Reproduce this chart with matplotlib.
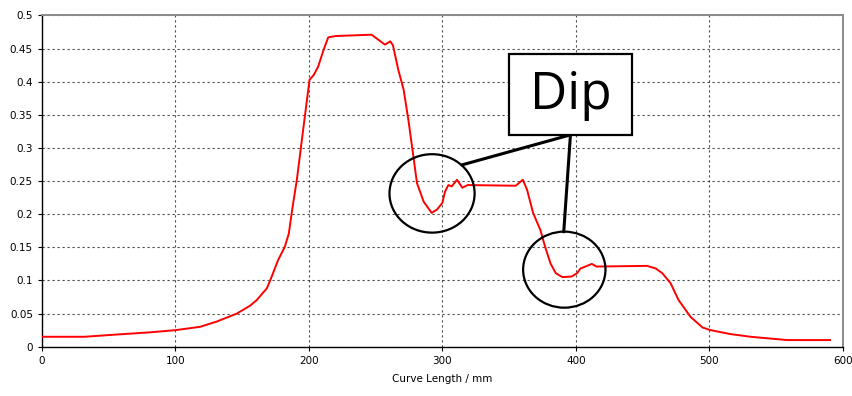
import matplotlib.pyplot as plt
from matplotlib.patches import Ellipse, Rectangle

# curve samples (curve length in mm, value)
curve_length = [0, 32, 51, 81, 100, 118.5, 131, 146, 156, 161, 165, 168.5, 171,
                177, 182, 185, 187, 188.5, 191, 196, 200.5, 203.6, 207, 211, 214.5,
                220, 247, 257, 261, 263, 267, 271, 274.6, 278, 281, 286, 292, 296,
                300, 302, 304.5, 307, 311, 315, 319, 355, 360.3, 363.5, 368, 373.5,
                377, 381, 385, 390, 397, 401, 403.5, 408.5, 412, 415.5, 453.5, 460,
                464.8, 471, 477, 486, 495, 501, 516, 531, 543.5, 558.5, 590.5]
value = [0.015, 0.015, 0.0177, 0.0217, 0.025, 0.030, 0.038, 0.050, 0.062, 0.0705,
         0.080, 0.088, 0.100, 0.131, 0.151, 0.171, 0.200, 0.220, 0.252, 0.332, 0.403,
         0.410, 0.423, 0.448, 0.467, 0.469, 0.471, 0.456, 0.461, 0.455, 0.418, 0.388,
         0.342, 0.292, 0.247, 0.219, 0.202, 0.207, 0.217, 0.234, 0.244, 0.242, 0.252,
         0.240, 0.244, 0.243, 0.252, 0.237, 0.202, 0.176, 0.151, 0.126, 0.111, 0.105,
         0.106, 0.111, 0.118, 0.122, 0.125, 0.121, 0.122, 0.118, 0.111, 0.096, 0.0705,
         0.045, 0.029, 0.025, 0.019, 0.015, 0.0127, 0.010, 0.010]

x_ticks = [0, 100, 200, 300, 400, 500, 600]
y_ticks = [0, 0.05, 0.1, 0.15, 0.2, 0.25, 0.3, 0.35, 0.4, 0.45, 0.5]
y_tick_labels = ['0', '0.05', '0.1', '0.15', '0.2', '0.25', '0.3', '0.35', '0.4', '0.45', '0.5']

fig = plt.figure(figsize=(8.53, 3.96), dpi=100)
ax = fig.add_axes([0.0492, 0.1245, 0.9387, 0.8364])

ax.plot(curve_length, value, color='red', linewidth=1.4, zorder=3)

ax.set_xlim(0, 600)
ax.set_ylim(0, 0.5)
ax.set_xticks(x_ticks)
ax.set_yticks(y_ticks)
ax.set_yticklabels(y_tick_labels)
ax.tick_params(labelsize=7.5, length=3, width=0.8, direction='out', colors='black')
ax.set_xlabel('Curve Length / mm', fontsize=7.5, labelpad=6)

# dashed grid
ax.grid(True, color='black', linestyle=(0, (2, 2.5)), linewidth=0.8, alpha=0.7)
ax.set_axisbelow(True)

for side in ['top', 'right']:
    ax.spines[side].set_color('#8a8a8a')
    ax.spines[side].set_linewidth(1.4)
for side in ['left', 'bottom']:
    ax.spines[side].set_color('black')
    ax.spines[side].set_linewidth(1.0)

# annotation: two circles, a labelled box and leader lines
ax.add_patch(Ellipse((292.3, 0.2314), 63.8, 0.1184, fill=False,
                     edgecolor='black', linewidth=1.6, zorder=4))
ax.add_patch(Ellipse((391.4, 0.1163), 61.7, 0.1148, fill=False,
                     edgecolor='black', linewidth=1.6, zorder=4))
ax.add_patch(Rectangle((349.7, 0.3198), 92.6, 0.1219, facecolor='white',
                       edgecolor='black', linewidth=1.6, zorder=5))
ax.text(396, 0.379, 'Dip', fontsize=37, family='Open Sans',
        ha='center', va='center', zorder=6)
ax.plot([396, 314.8], [0.3198, 0.2745], color='black', linewidth=2.2, zorder=4)
ax.plot([396, 391], [0.3198, 0.1737], color='black', linewidth=2.2, zorder=4)

fig.savefig('out.png', dpi=100)
